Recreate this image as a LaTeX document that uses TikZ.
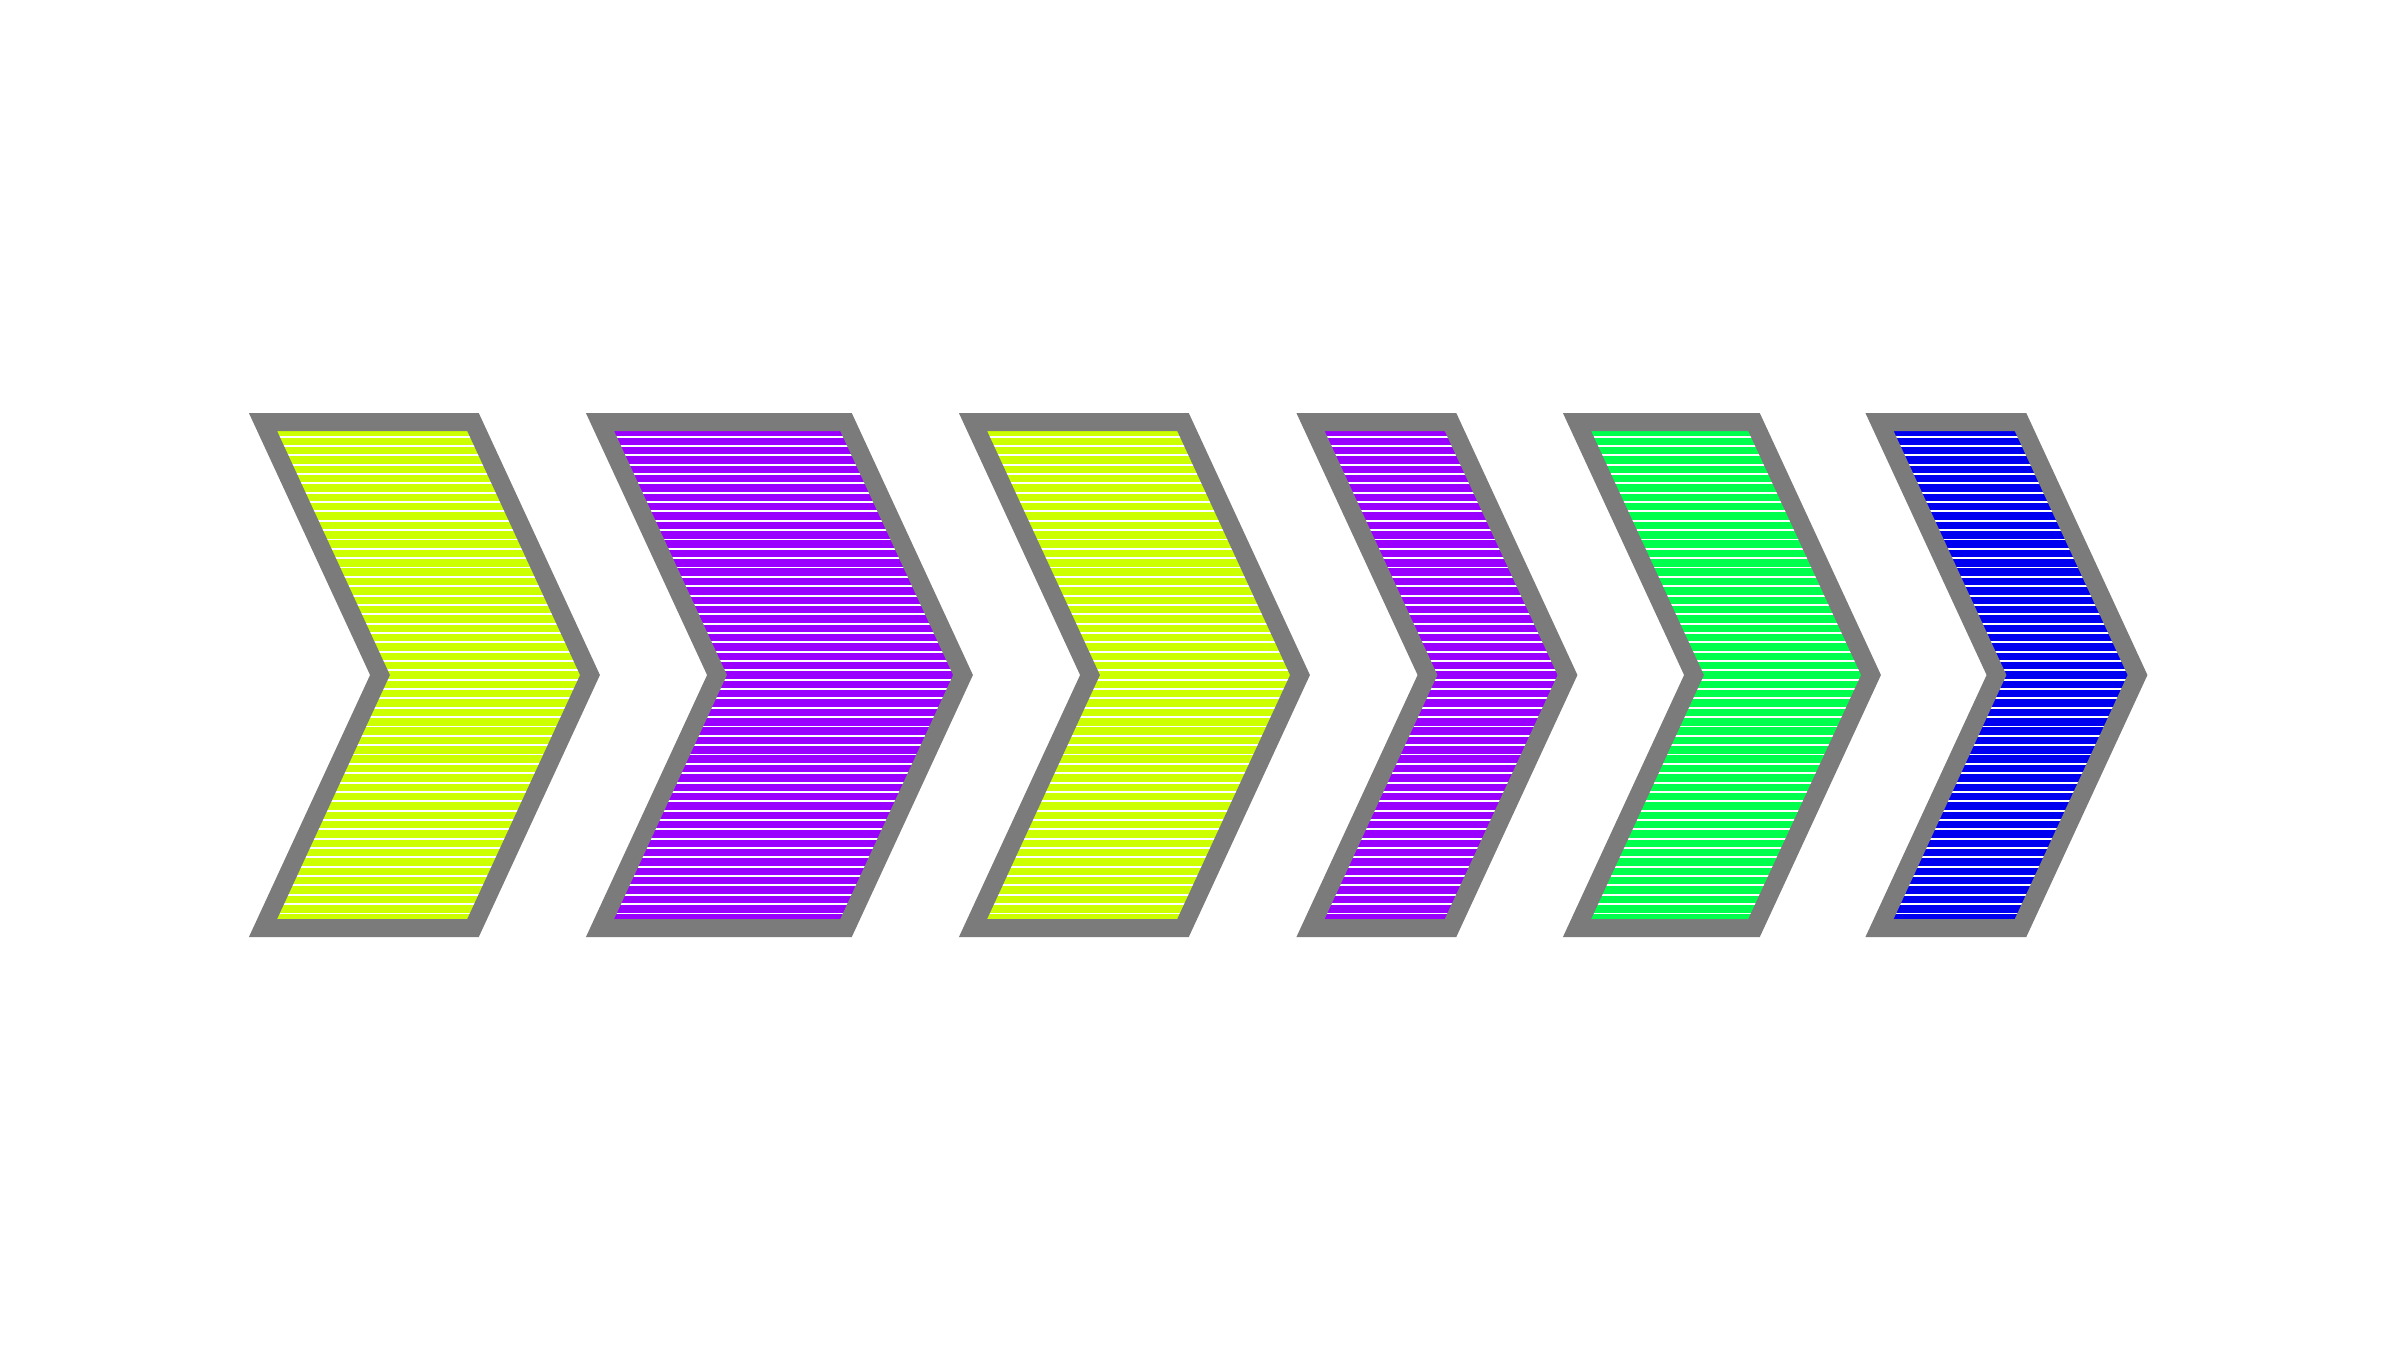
\documentclass[tikz,border=0pt]{standalone}
\usepackage{tikz}
\definecolor{chevlime}{HTML}{CCFF00}
\definecolor{chevviolet}{HTML}{9900FF}
\definecolor{chevgreen}{HTML}{00FF4C}
\definecolor{chevblue}{HTML}{0000F0}
\definecolor{chevgray}{HTML}{7B7B7B}
% left x, top width, colour
\newcommand{\drawchevron}[3]{%
	\fill[#3] (#1,422) -- ++(#2,0) -- ++(117,253) -- ++(-117,253)
		-- ++(-#2,0) -- ++(117,-253) -- cycle;
	\begin{scope}
		\clip (#1,422) -- ++(#2,0) -- ++(117,253) -- ++(-117,253)
			-- ++(-#2,0) -- ++(117,-253) -- cycle;
		\foreach \k in {0,...,51}
			\draw[stripe] (#1,436.6+9.35*\k) -- ++(#2+117,0);
	\end{scope}
	\draw[chevron] (#1,422) -- ++(#2,0) -- ++(117,253) -- ++(-117,253)
		-- ++(-#2,0) -- ++(117,-253) -- cycle;
}

\begin{document}
\begin{tikzpicture}[
		chevron/.style={draw=chevgray,line width=0.18cm,line join=miter},
		stripe/.style={draw=white,line width=0.019cm},
		x=0.01cm, y=-0.01cm
	]
		\useasboundingbox[fill=white] (0,0) rectangle (2400,1350);
		\drawchevron{263}{210}{chevlime}
		\drawchevron{600}{246}{chevviolet}
		\drawchevron{973}{210}{chevlime}
		\drawchevron{1310.5}{140}{chevviolet}
		\drawchevron{1577}{177}{chevgreen}
		\drawchevron{1879.5}{141}{chevblue}
	\end{tikzpicture}
\end{document}
